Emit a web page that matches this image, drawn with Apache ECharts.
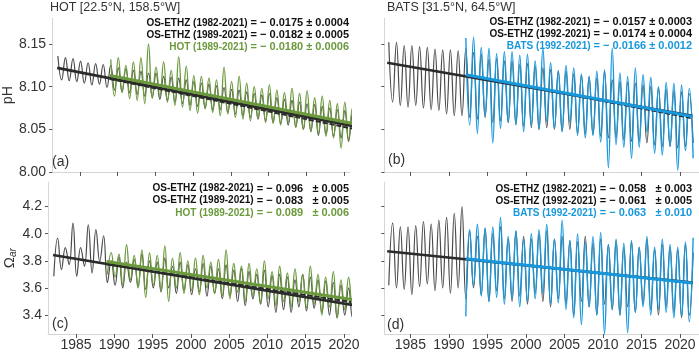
<!DOCTYPE html>
<html>
<head>
<meta charset="utf-8">
<script src="https://cdn.jsdelivr.net/npm/echarts@6.0.0/dist/echarts.min.js"></script>
<style>
  html, body { margin: 0; padding: 0; background: #fff; }
  #chart { width: 699px; height: 352px; }
</style>
</head>
<body>
<div id="chart"></div>
<script>
// half-yearly samples (seasonal max / min)
var hotPhModel = [8.136,8.108, 8.134,8.107, 8.133,8.106, 8.130,8.104, 8.128,8.102, 8.127,8.103, 8.126,8.099, 8.125,8.096,
  8.122,8.094, 8.121,8.093, 8.119,8.091, 8.118,8.089, 8.116,8.088, 8.116,8.085, 8.112,8.084, 8.111,8.082, 8.110,8.080,
  8.108,8.078, 8.106,8.077, 8.104,8.075, 8.103,8.073, 8.101,8.073, 8.099,8.070, 8.097,8.068, 8.096,8.066, 8.094,8.064,
  8.092,8.062, 8.090,8.060, 8.092,8.058, 8.087,8.057, 8.085,8.055, 8.084,8.053, 8.082,8.050, 8.080,8.048, 8.079,8.043,
  8.077,8.044, 8.075,8.042, 8.073,8.040, 8.072,8.036, 8.068,8.034];
var hotPhObs = [8.132,8.089, 8.134,8.093, 8.125,8.086, 8.129,8.084, 8.134,8.080, 8.150,8.086, 8.123,8.088, 8.129,8.082,
  8.119,8.078, 8.135,8.076, 8.124,8.072, 8.113,8.069, 8.112,8.074, 8.110,8.070, 8.108,8.066, 8.123,8.068, 8.106,8.064,
  8.112,8.062, 8.104,8.060, 8.100,8.063, 8.098,8.058, 8.102,8.057, 8.096,8.055, 8.093,8.058, 8.098,8.052, 8.092,8.050,
  8.095,8.047, 8.087,8.045, 8.089,8.042, 8.084,8.040, 8.080,8.028, 8.082,8.038, 8.075,8.045];
var batsPhModel = [8.152,8.082, 8.152,8.078, 8.148,8.076, 8.148,8.078, 8.147,8.075, 8.146,8.073, 8.144,8.072, 8.143,8.068,
  8.143,8.066, 8.142,8.066, 8.145,8.064, 8.140,8.062, 8.138,8.064, 8.132,8.058, 8.133,8.060, 8.130,8.058, 8.130,8.056,
  8.126,8.054, 8.127,8.052, 8.124,8.050, 8.122,8.052, 8.120,8.050, 8.118,8.048, 8.118,8.050, 8.115,8.046, 8.113,8.045,
  8.112,8.044, 8.110,8.042, 8.118,8.040, 8.108,8.040, 8.106,8.038, 8.105,8.036, 8.104,8.036, 8.102,8.034, 8.100,8.032,
  8.099,8.030, 8.097,8.030, 8.095,8.028, 8.094,8.030, 8.092,8.034];
var batsPhObs = [8.157,8.055, 8.158,8.045, 8.146,8.066, 8.145,8.034, 8.139,8.051, 8.141,8.058, 8.141,8.055, 8.137,8.047,
  8.138,8.055, 8.130,8.050, 8.145,8.059, 8.128,8.051, 8.119,8.047, 8.125,8.058, 8.122,8.043, 8.115,8.040, 8.111,8.043,
  8.118,8.035, 8.120,8.005, 8.145,8.032, 8.116,8.029, 8.112,8.016, 8.122,8.029, 8.114,8.047, 8.111,8.022, 8.100,8.020,
  8.105,8.030, 8.104,8.002, 8.102,8.025, 8.098,8.016];
var hotOmModel = [3.686,3.968, 3.735,3.897, 3.772,4.078, 3.686,3.897, 3.760,4.066, 3.710,4.030, 3.796,3.985, 3.640,3.800,
  3.620,3.830, 3.600,3.790, 3.640,3.810, 3.610,3.850, 3.590,3.800, 3.600,3.790, 3.570,3.820, 3.600,3.760, 3.560,3.790,
  3.580,3.770, 3.550,3.740, 3.570,3.780, 3.540,3.760, 3.560,3.740, 3.520,3.770, 3.540,3.730, 3.500,3.740, 3.470,3.720,
  3.520,3.700, 3.480,3.730, 3.460,3.690, 3.420,3.700, 3.440,3.680, 3.420,3.660, 3.460,3.700, 3.430,3.680, 3.450,3.660,
  3.420,3.650, 3.400,3.640, 3.380,3.620, 3.400,3.600, 3.380,3.560];
var hotOmObs = [3.70,3.86, 3.68,3.85, 3.62,3.92, 3.66,3.84, 3.60,3.88, 3.53,3.86, 3.62,3.84, 3.58,3.91, 3.50,3.82,
  3.60,3.86, 3.56,3.80, 3.58,3.82, 3.55,3.84, 3.60,3.79, 3.56,3.81, 3.54,3.88, 3.52,3.78, 3.57,3.76, 3.50,3.78,
  3.54,3.74, 3.49,3.80, 3.52,3.72, 3.47,3.76, 3.50,3.71, 3.46,3.74, 3.50,3.70, 3.45,3.76, 3.48,3.70, 3.40,3.68,
  3.46,3.72, 3.38,3.66, 3.44,3.68, 3.46,3.62];
var batsOmModel = [3.62,4.08, 3.60,4.05, 3.59,4.05, 3.55,4.06, 3.61,4.09, 3.63,4.07, 3.58,4.10, 3.60,4.12, 3.56,4.15,
  3.60,4.20, 3.52,4.02, 3.60,3.98, 3.55,4.04, 3.50,4.00, 3.58,4.05, 3.52,3.96, 3.50,4.02, 3.54,3.98, 3.48,3.96,
  3.56,4.00, 3.50,4.02, 3.46,3.96, 3.52,3.98, 3.48,3.95, 3.40,3.94, 3.50,3.98, 3.46,3.93, 3.40,3.96, 3.48,3.92,
  3.44,3.95, 3.40,3.90, 3.46,3.94, 3.42,3.90, 3.48,3.96, 3.44,3.88, 3.40,3.92, 3.46,3.90, 3.42,3.88, 3.38,3.92, 3.40,3.86];
var batsOmObs = [3.39,4.03, 3.62,4.07, 3.54,4.04, 3.50,4.05, 3.53,4.12, 3.48,3.98, 3.52,4.02, 3.46,3.96, 3.50,4.00,
  3.52,4.03, 3.56,4.07, 3.48,3.96, 3.49,4.10, 3.44,3.95, 3.38,4.00, 3.33,3.94, 3.46,3.98, 3.40,4.01, 3.26,3.92,
  3.44,3.96, 3.40,3.93, 3.27,3.95, 3.42,3.90, 3.46,3.98, 3.40,3.90, 3.44,3.96, 3.42,3.92, 3.38,3.90, 3.39,3.94, 3.35,3.97];

// linear fits [start, end]
var hotPhFit82 = [[1982.0, 8.122], [2021.6, 8.053]];
var hotPhFit89 = [[1989.0, 8.109], [2021.6, 8.050]];
var hotPhFitObs = [[1989.0, 8.113], [2021.6, 8.056]];
var batsPhFit82 = [[1982.0, 8.128], [2021.6, 8.066]];
var batsPhFit92 = [[1992.2, 8.114], [2021.6, 8.063]];
var batsPhFitObs = [[1992.2, 8.114], [2021.6, 8.065]];
var hotOmFit82 = [[1982.0, 3.843], [2021.6, 3.470]];
var hotOmFit89 = [[1989.0, 3.775], [2021.6, 3.490]];
var hotOmFitObs = [[1989.0, 3.795], [2021.6, 3.510]];
var batsOmFit82 = [[1982.0, 3.870], [2021.6, 3.640]];
var batsOmFit92 = [[1992.2, 3.815], [2021.6, 3.635]];
var batsOmFitObs = [[1992.2, 3.815], [2021.6, 3.637]];

var yearTicks = [1985, 1990, 1995, 2000, 2005, 2010, 2015, 2020];
var phTicks = [8.00, 8.05, 8.10, 8.15];
var omTicks = [3.4, 3.6, 3.8, 4.0, 4.2];

var GRAY = '#4a4a4a', DARK = '#2b2b2b', GREEN = '#6b9a3c', BLUE = '#1898dc';
var FONT = 'Liberation Sans, Arial, sans-serif';

function halfYear(start, vals) {
    return vals.map(function (v, i) { return [start + i * 0.5, v]; });
}

var chart = echarts.init(document.getElementById('chart'), null, { renderer: 'canvas' });

var grids = [
    { left: 48, top: 18.4, width: 302, height: 153.6 },
    { left: 384.3, top: 18.4, width: 314.7, height: 153.6 },
    { left: 48, top: 182.2, width: 302, height: 152.6 },
    { left: 384.3, top: 182.2, width: 314.7, height: 152.6 }
];

function xAx(idx, left, labels) {
    return {
        type: 'value', gridIndex: idx,
        min: left ? 1981.34 : 1981.62,
        max: left ? 2020.78 : 2022.46,
        splitLine: { show: false },
        axisLine: { lineStyle: { color: '#d6d6d6', width: 1 } },
        axisTick: { customValues: yearTicks, length: 4, lineStyle: { color: '#555' } },
        axisLabel: {
            show: labels, customValues: yearTicks, margin: 4,
            color: '#333', fontSize: 14, fontFamily: FONT,
            formatter: function (v) { return String(Math.round(v)); }
        }
    };
}

function yAx(idx, ph, labels) {
    var ax = {
        type: 'value', gridIndex: idx,
        min: ph ? 8.00 : 3.26,
        max: ph ? 8.18 : 4.38,
        splitLine: { show: false },
        axisLine: { show: true, lineStyle: { color: '#d6d6d6', width: 1 } },
        axisTick: { show: true, customValues: ph ? phTicks : omTicks, length: 3, lineStyle: { color: '#555' } },
        axisLabel: {
            show: labels, customValues: ph ? phTicks : omTicks, margin: 6,
            color: '#333', fontSize: 14, fontFamily: FONT,
            formatter: function (v) { return ph ? v.toFixed(2) : v.toFixed(1); }
        }
    };
    if (labels) {
        ax.nameLocation = 'middle';
        ax.nameRotate = 90;
        ax.nameGap = ph ? 33 : 29;
        ax.name = ph ? 'pH' : '{o|Ω}{s|ar}';
        ax.nameTextStyle = {
            color: '#333', fontSize: 14, fontFamily: FONT,
            rich: {
                o: { fontSize: 15, fontFamily: FONT, color: '#333', lineHeight: 18 },
                s: { fontSize: 10, fontFamily: FONT, fontStyle: 'italic', color: '#333', verticalAlign: 'bottom', lineHeight: 18 }
            }
        };
    }
    return ax;
}

function wave(idx, data, start, color, w) {
    return {
        type: 'line', xAxisIndex: idx, yAxisIndex: idx,
        data: halfYear(start, data), smooth: 0.45, symbol: 'none',
        lineStyle: { color: color, width: w }, silent: true, animation: false
    };
}

function fit(idx, data, color, w, dashed) {
    return {
        type: 'line', xAxisIndex: idx, yAxisIndex: idx,
        data: data, symbol: 'none',
        lineStyle: { color: color, width: w, type: dashed ? [5, 2] : 'solid' },
        silent: true, animation: false
    };
}

function note(x, y, label, value, color) {
    return {
        type: 'text', x: x, y: y, silent: true,
        style: {
            text: '{l|' + label + '}{v|' + value + '}',
            align: 'right', verticalAlign: 'middle',
            rich: {
                l: { fontSize: 10, fontWeight: 'bold', fontFamily: FONT, fill: color, color: color },
                v: { fontSize: 11, fontWeight: 'bold', fontFamily: FONT, fill: color, color: color }
            }
        }
    };
}

function plain(x, y, text, size) {
    return {
        type: 'text', x: x, y: y, silent: true,
        style: { text: text, fontSize: size, fontFamily: FONT, fill: '#333', verticalAlign: 'middle' }
    };
}

var option = {
    backgroundColor: '#fff',
    animation: false,
    grid: grids,
    xAxis: [xAx(0, true, false), xAx(1, false, false), xAx(2, true, true), xAx(3, false, true)],
    yAxis: [yAx(0, true, true), yAx(1, true, false), yAx(2, false, true), yAx(3, false, false)],
    series: [
        wave(0, hotPhModel, 1982.1, GRAY, 1.2),
        wave(0, hotPhObs, 1989.1, GREEN, 1.3),
        fit(0, hotPhFit82, DARK, 2.6, false),
        fit(0, hotPhFit89, DARK, 2, true),
        fit(0, hotPhFitObs, GREEN, 3, false),

        wave(1, batsPhModel, 1982.2, GRAY, 1.2),
        wave(1, batsPhObs, 1992.2, BLUE, 1.4),
        fit(1, batsPhFit82, DARK, 2.6, false),
        fit(1, batsPhFit92, DARK, 2, true),
        fit(1, batsPhFitObs, BLUE, 3, false),

        wave(2, hotOmModel, 1982.1, GRAY, 1.2),
        wave(2, hotOmObs, 1989.1, GREEN, 1.3),
        fit(2, hotOmFit82, DARK, 2.6, false),
        fit(2, hotOmFit89, DARK, 2, true),
        fit(2, hotOmFitObs, GREEN, 3, false),

        wave(3, batsOmModel, 1982.2, GRAY, 1.2),
        wave(3, batsOmObs, 1992.2, BLUE, 1.4),
        fit(3, batsOmFit82, DARK, 2.6, false),
        fit(3, batsOmFit92, DARK, 2, true),
        fit(3, batsOmFitObs, BLUE, 3, false)
    ],
    graphic: [
        plain(50, 8, 'HOT [22.5°N, 158.5°W]', 12.5),
        plain(387, 8, 'BATS [31.5°N, 64.5°W]', 12.5),
        plain(52, 162, '(a)', 14),
        plain(388, 160, '(b)', 14),
        plain(52, 324, '(c)', 14),
        plain(387, 325, '(d)', 14),

        note(349, 23, 'OS-ETHZ (1982-2021)', ' = − 0.0175 ± 0.0004', '#111'),
        note(349, 35, 'OS-ETHZ (1989-2021)', ' = − 0.0182 ± 0.0005', '#111'),
        note(349, 47, 'HOT (1989-2021)', ' = − 0.0180 ± 0.0006', GREEN),

        note(692, 22, 'OS-ETHZ (1982-2021)', ' = − 0.0157 ± 0.0003', '#111'),
        note(692, 34, 'OS-ETHZ (1992-2021)', ' = − 0.0174 ± 0.0004', '#111'),
        note(692, 46, 'BATS (1992-2021)', ' = − 0.0166 ± 0.0012', BLUE),

        note(349, 188.5, 'OS-ETHZ (1982-2021)', ' = − 0.096   ± 0.005', '#111'),
        note(349, 200.5, 'OS-ETHZ (1989-2021)', ' = − 0.083   ± 0.005', '#111'),
        note(349, 213, 'HOT (1989-2021)', ' = − 0.089   ± 0.006', GREEN),

        note(692, 189, 'OS-ETHZ (1982-2021)', ' = − 0.058   ± 0.003', '#111'),
        note(692, 201, 'OS-ETHZ (1992-2021)', ' = − 0.061   ± 0.005', '#111'),
        note(692, 213, 'BATS (1992-2021)', ' = − 0.063   ± 0.010', BLUE)
    ]
};

chart.setOption(option);
</script>
</body>
</html>
